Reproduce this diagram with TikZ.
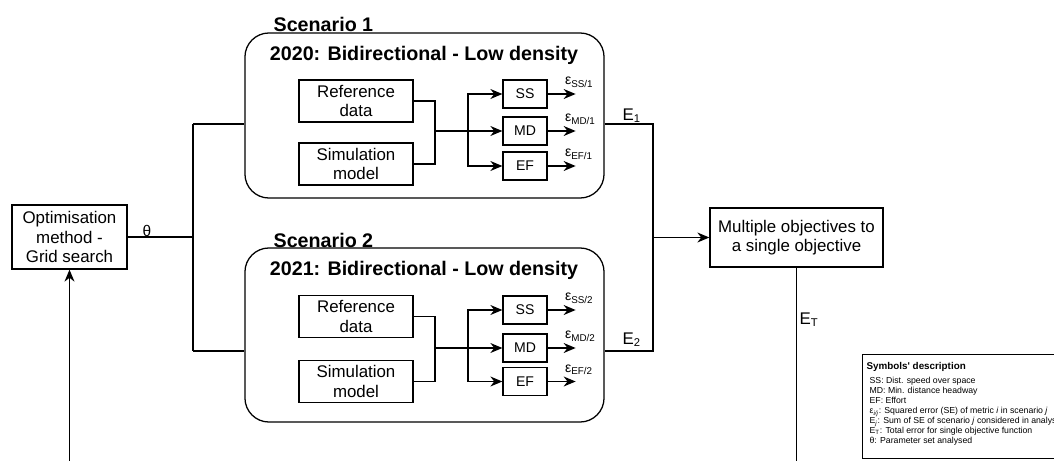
\documentclass[tikz,border=0pt]{standalone}
\usepackage{fontspec}
\setmainfont{Liberation Sans}
\usetikzlibrary{positioning,arrows.meta}

\begin{document}
\begin{tikzpicture}[
  x=0.025cm, y=-0.025cm,
  line width=0.9pt,
  box/.style={draw, line width=0.9pt, align=center, inner sep=2pt, font=\fontsize{12}{14}\selectfont},
  datbox/.style={box, minimum width=2.85cm, minimum height=1.05cm},
  metric/.style={box, minimum width=1.1cm, minimum height=0.7cm, font=\fontsize{10}{12}\selectfont},
  scen/.style={draw, rounded corners=0.6cm, line width=0.9pt, minimum width=8.975cm},
  head/.style={inner sep=0pt, font=\bfseries\fontsize{14}{16}\selectfont},
  eps/.style={anchor=base west, inner sep=0pt, xshift=-2.8mm, yshift=2.3mm, font=\fontsize{10}{12}\selectfont},
  lbl/.style={anchor=base west, inner sep=0pt, font=\fontsize{12}{14}\selectfont},
  flow/.style={-{Stealth[length=3mm,width=2.5mm]}},
]
\useasboundingbox (0,0) rectangle (1054,461);
\clip (0,0) rectangle (1054,461);

% ---------- scenario containers ----------
\node[scen, minimum height=4.125cm] (scen1) at (424.5,115.5) {};
\node[scen, minimum height=4.35cm] (scen2) at (424.5,335) {};
\node[head, anchor=base west] (sc1) at (273,31) {Scenario 1};
\node[head, anchor=base] (t1) at (424,60) {2020: Bidirectional - Low density};
\node[head, anchor=base west] (sc2) at (273,247) {Scenario 2};
\node[head, anchor=base] (t2) at (424,275) {2021: Bidirectional - Low density};

% ---------- nodes ----------
\node[box, minimum width=2.875cm, minimum height=1.6cm] (opt) at (69.5,237) {Optimisation\\method -\\Grid search};
\node[box, minimum width=4.325cm, minimum height=1.475cm] (multi) at (796.5,237.5) {Multiple objectives to\\a single objective};

\node[datbox] (ref1) at (356,101) {Reference\\data};
\node[datbox] (sim1) at (356,164) {Simulation\\model};
\node[metric] (ss1) at (525,94) {SS};
\node[metric] (md1) at (525,131) {MD};
\node[metric] (ef1) at (525,166) {EF};

\node[datbox] (ref2) at (356,316.5) {Reference\\data};
\node[datbox] (sim2) at (356,381.5) {Simulation\\model};
\node[metric] (ss2) at (525,310) {SS};
\node[metric] (md2) at (525,348) {MD};
\node[metric] (ef2) at (525,381.5) {EF};

% ---------- inside scenario 1 ----------
\coordinate (j1) at (435,131);
\coordinate (s1) at (468,131);
\draw (ref1.east) -| (j1);
\draw (sim1.east) -| (j1);
\draw (j1) -- (s1);
\draw[flow] (s1) |- (ss1.west);
\draw[flow] (s1) -- (md1.west);
\draw[flow] (s1) |- (ef1.west);
\draw[flow] (ss1.east) -- ++(28,0) node[eps] (ess1) {ε\textsubscript{SS/1}};
\draw[flow] (md1.east) -- ++(28,0) node[eps] (emd1) {ε\textsubscript{MD/1}};
\draw[flow] (ef1.east) -- ++(28,0) node[eps] (eef1) {ε\textsubscript{EF/1}};

% ---------- inside scenario 2 ----------
\coordinate (j2) at (435,348);
\coordinate (s2) at (468,348);
\draw (ref2.east) -| (j2);
\draw (sim2.east) -| (j2);
\draw (j2) -- (s2);
\draw[flow] (s2) |- (ss2.west);
\draw[flow] (s2) -- (md2.west);
\draw[flow] (s2) |- (ef2.west);
\draw[flow] (ss2.east) -- ++(28,0) node[eps] (ess2) {ε\textsubscript{SS/2}};
\draw[flow] (md2.east) -- ++(28,0) node[eps] (emd2) {ε\textsubscript{MD/2}};
\draw[flow] (ef2.east) -- ++(28,0) node[eps] (eef2) {ε\textsubscript{EF/2}};

% ---------- outer loop ----------
\coordinate (r1) at (0,124);
\coordinate (r2) at (0,351);
\coordinate (tx) at (193,0);
\coordinate (ex) at (653,0);
\coordinate (bot) at (0,470);
\draw (opt.east) -- (opt.east -| tx);
\draw (tx |- r1) -- (tx |- r2);
\draw (tx |- r1) -- (scen1.west |- r1);
\draw (tx |- r2) -- (scen2.west |- r2);
\draw (scen1.east |- r1) -| (ex |- r2) -- (scen2.east |- r2);
\draw[flow] (ex |- multi.west) -- (multi.west);
\draw (multi.south) -- (multi.south |- bot);
\draw[flow] (opt.south |- bot) -- (opt.south);

\node[lbl, font=\fontsize{11}{13}\selectfont] (th) at (142,236) {θ};
\node[lbl] (e1) at (622,120) {E\textsubscript{1}};
\node[lbl] (e2) at (622,344) {E\textsubscript{2}};
\node[lbl] (et) at (799,324) {E\textsubscript{T}};

% ---------- legend ----------
\node[draw, line width=0.9pt, anchor=north west, minimum width=5.6cm, minimum height=2.6cm] (leg) at (862,354) {};
\node[anchor=base west, inner sep=0pt, font=\bfseries\fontsize{7}{8}\selectfont] (legt) at (866,369.5) {Symbols\textquotesingle\ description};
\node[anchor=north west, inner sep=0pt, align=left, font=\fontsize{6.2}{7.1}\selectfont] (legtxt) at (869,376.7) {%
SS: Dist. speed over space\\
MD: Min. distance headway\\
EF: Effort\\
ε\textsubscript{\textit{i/j}}: Squared error (SE) of metric \textit{i} in scenario \textit{j}\\
E\textsubscript{\textit{j}}: Sum of SE of scenario \textit{j} considered in analysis\\
E\textsubscript{T}: Total error for single objective function\\
θ: Parameter set analysed};

\end{tikzpicture}
\end{document}
